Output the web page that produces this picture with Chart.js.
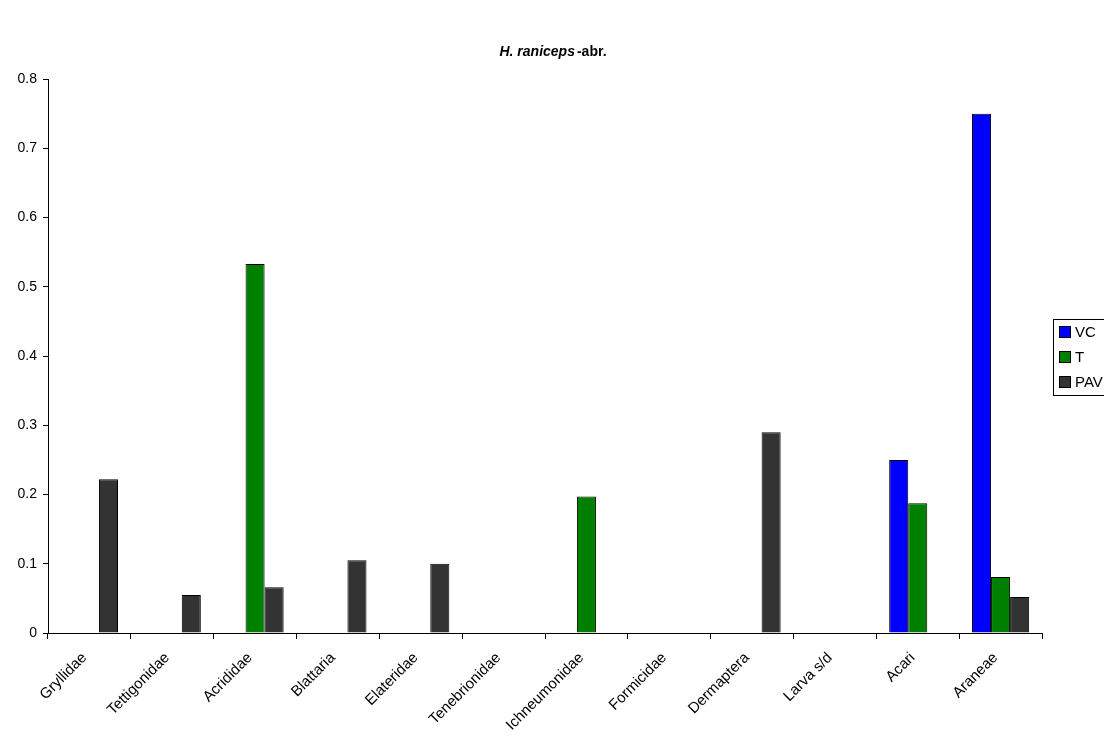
<!DOCTYPE html>
<html>
<head>
<meta charset="utf-8">
<script src="https://cdn.jsdelivr.net/npm/chart.js@4.4.1/dist/chart.umd.min.js"></script>
<style>
  html, body { margin: 0; padding: 0; background: #fff; }
  #wrap { width: 1104px; height: 740px; position: relative; }
</style>
</head>
<body>
<div id="wrap"><canvas id="grafico" width="1104" height="740"></canvas></div>
<script>
// Categorías (familias de presas)
const categorias = ['Gryllidae', 'Tettigonidae', 'Acrididae', 'Blattaria', 'Elateridae', 'Tenebrionidae',
  'Ichneumonidae', 'Formicidae', 'Dermaptera', 'Larva s/d', 'Acari', 'Araneae'];

// Valores de cada serie
const valoresVC  = [0, 0, 0, 0, 0, 0, 0, 0, 0, 0, 0.25, 0.75];
const valoresT   = [0, 0, 0.533, 0, 0, 0, 0.197, 0, 0, 0, 0.1875, 0.081];
const valoresPAV = [0.222, 0.055, 0.066, 0.105, 0.1, 0, 0, 0, 0.29, 0, 0, 0.052];

const nombresSeries = ['VC', 'T', 'PAV'];
const coloresSeries = ['#0000ff', '#008000', '#333333'];

const fuente = '"Liberation Sans", Arial, sans-serif';

// Título con partes en cursiva y normal
const tituloPlugin = {
  id: 'titulo',
  afterDraw(chart) {
    const ctx = chart.ctx;
    ctx.save();
    ctx.fillStyle = '#000';
    ctx.textBaseline = 'middle';
    const parte1 = 'H. raniceps';
    const parte2 = '-abr.';
    ctx.font = 'italic bold 14px ' + fuente;
    const w1 = ctx.measureText(parte1).width;
    ctx.font = 'bold 14px ' + fuente;
    const w2 = ctx.measureText(parte2).width;
    const x0 = 552 - (w1 + w2) / 2;
    ctx.font = 'italic bold 14px ' + fuente;
    ctx.fillText(parte1, x0, 52);
    ctx.font = 'bold 14px ' + fuente;
    ctx.fillText(parte2, x0 + w1 + 2, 52);
    ctx.restore();
  }
};

// Leyenda dibujada a mano en la posición original (recortada por el borde)
const leyendaPlugin = {
  id: 'leyenda',
  afterDraw(chart) {
    const ctx = chart.ctx;
    ctx.save();
    ctx.fillStyle = '#fff';
    ctx.fillRect(1053.5, 319.5, 100, 76);
    ctx.strokeStyle = '#000';
    ctx.lineWidth = 1;
    ctx.strokeRect(1053.5, 319.5, 100, 76);
    ctx.font = '15px ' + fuente;
    ctx.textBaseline = 'middle';
    chart.data.datasets.forEach((ds, i) => {
      const y = 332 + i * 25;
      ctx.fillStyle = ds.backgroundColor;
      ctx.fillRect(1060, y - 5, 10, 10);
      ctx.strokeStyle = '#000';
      ctx.strokeRect(1059.5, y - 5.5, 11, 11);
      ctx.fillStyle = '#000';
      ctx.fillText(ds.label, 1075, y + 1);
    });
    ctx.restore();
  }
};

const series = [valoresVC, valoresT, valoresPAV];

new Chart(document.getElementById('grafico'), {
  type: 'bar',
  data: {
    labels: categorias,
    datasets: series.map((valores, i) => ({
      label: nombresSeries[i],
      data: valores,
      backgroundColor: coloresSeries[i],
      borderColor: '#000',
      borderWidth: 1,
      borderSkipped: 'bottom',
      categoryPercentage: 0.69,
      barPercentage: 1.0,
    })),
  },
  options: {
    responsive: false,
    animation: false,
    layout: { padding: { top: 79, right: 62, left: 0, bottom: 0 } },
    plugins: {
      legend: { display: false },
      title: { display: false },
      tooltip: { enabled: false },
    },
    scales: {
      x: {
        afterFit(scale) { scale.height = 107; },
        grid: {
          display: true,
          drawOnChartArea: false,
          drawTicks: true,
          tickLength: 6,
          color: '#000',
          offset: true,
        },
        border: { display: true, color: '#000', width: 1 },
        ticks: {
          color: '#000',
          font: { family: fuente, size: 15 },
          maxRotation: 45,
          minRotation: 45,
          autoSkip: false,
          padding: 10,
          labelOffset: -5,
        },
      },
      y: {
        min: 0,
        max: 0.8,
        afterFit(scale) { scale.width = 48; },
        grid: {
          display: true,
          drawOnChartArea: false,
          drawTicks: true,
          tickLength: 5,
          color: '#000',
        },
        border: { display: true, color: '#000', width: 1 },
        ticks: {
          stepSize: 0.1,
          color: '#000',
          font: { family: fuente, size: 14 },
          padding: 6,
          callback: v => (v === 0 ? '0' : v.toFixed(1)),
        },
      },
    },
  },
  plugins: [tituloPlugin, leyendaPlugin],
});
</script>
</body>
</html>
